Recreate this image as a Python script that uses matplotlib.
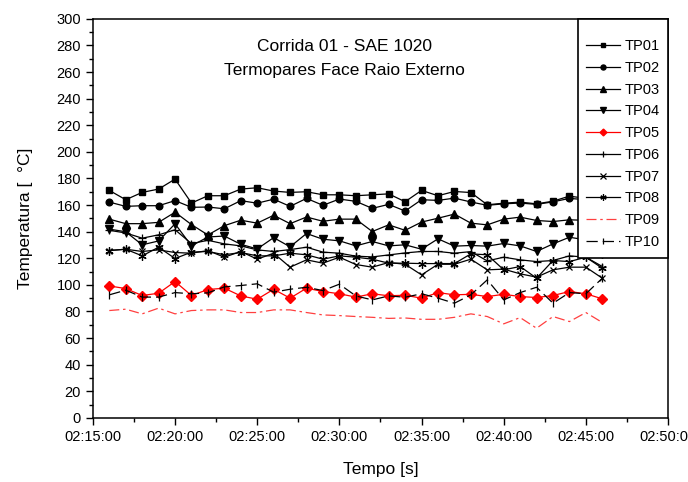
import datetime as dt
import matplotlib
matplotlib.use('Agg')
import matplotlib.pyplot as plt
import matplotlib.dates as mdates
from matplotlib.ticker import MultipleLocator

plt.rcParams['font.family'] = ['Liberation Sans', 'DejaVu Sans']

# one reading per minute, 02:16:00 .. 02:46:00
minutes = [16, 17, 18, 19, 20, 21, 22, 23, 24, 25, 26, 27, 28, 29, 30, 31,
           32, 33, 34, 35, 36, 37, 38, 39, 40, 41, 42, 43, 44, 45, 46]

tp01 = [171, 164, 169.5, 172, 179.5, 161.5, 167, 167, 172, 173, 170.5, 169.5, 170, 167.7, 167.7, 167,
        167.7, 168.4, 162.5, 171, 167, 170.2, 169.4, 160.2, 161.4, 162.2, 160.9, 162.9, 166.7, 165, 164]
tp02 = [162.2, 159, 159.5, 159.5, 163.3, 158.3, 158.5, 157.2, 163.3, 161.4, 164.4, 159, 165, 159.8, 164.5, 162.8,
        157.5, 160.5, 155.5, 164, 163.5, 165.2, 162.3, 159.8, 160.9, 161.5, 160.5, 162.4, 165, 164, 163]
tp03 = [149.4, 146, 146, 147, 154.6, 145.3, 137.5, 144.5, 148.6, 146.4, 152.3, 146, 151, 147.8, 149.4, 149.4,
        140.1, 145.1, 141, 147.2, 150.1, 153.2, 146.4, 145.1, 149.4, 150.9, 148.4, 147.6, 148.9, 148.5, 149]
tp04 = [141.9, 139.9, 130.1, 133, 145.9, 129.3, 136, 136.7, 130.5, 127, 135.5, 128.6, 138.6, 134.3, 133.1, 129.3,
        132.6, 129.3, 130.1, 126.8, 134.6, 129.1, 129.6, 129.1, 131.1, 129.3, 125.1, 130.8, 135.8, 133.8, 123]
tp05 = [99.2, 97.2, 92.0, 93.7, 102.5, 92.0, 96.5, 97.5, 91.7, 89.2, 96.7, 90.0, 97.5, 95.0, 93.3, 90.8,
        93.3, 91.8, 92.2, 90.0, 94.2, 92.5, 92.9, 91.2, 92.9, 91.2, 90.5, 92.0, 95.0, 93.3, 89.5]
tp06 = [141, 139, 135.1, 137.6, 141.4, 131, 133.5, 130.8, 129.3, 126.3, 125.1, 126.5, 128.3, 124.6, 123.8, 121.6,
        121.0, 122.5, 124, 125.1, 125.1, 123.8, 125, 118, 120.8, 118.8, 117.5, 118.3, 121.8, 120.8, 113.8]
tp07 = [125.8, 126.8, 125.1, 126.3, 124.3, 123.8, 125.8, 120.8, 125.1, 119.3, 123.8, 113.3, 118.8, 116.3, 120.8, 115.3,
        113.3, 116.8, 115.5, 107.5, 115.5, 115.5, 119.3, 111.3, 111.8, 108.3, 105.8, 111.3, 113.3, 113.3, 105.0]
tp08 = [125.8, 126.8, 121.8, 128.3, 119.8, 124.6, 125.1, 122.6, 124.3, 121.8, 121.8, 123.8, 122.6, 119.3, 121.8, 120.8,
        119.3, 116.3, 116.3, 116.0, 116.0, 116.0, 123.3, 122.6, 111.3, 113.8, 105.0, 118.3, 117.5, 120.8, 112.5]
tp09 = [80.7, 81.7, 78.2, 82.5, 78.2, 80.7, 81.2, 81.2, 79.2, 79.2, 81.2, 81.2, 79.2, 77.4, 76.9, 76.2,
        75.6, 74.8, 75.1, 74.1, 74.1, 75.6, 78.2, 76.2, 70.7, 75.4, 67.4, 76.2, 72.4, 79.2, 71.7]
tp10 = [92.5, 96, 90.8, 90.8, 94.2, 93.3, 94, 98.5, 99.5, 100.8, 94.5, 96.7, 98.2, 95.7, 100.5, 91.7,
        88.7, 91.7, 90.7, 93.3, 90.0, 86.2, 92.5, 103.8, 88.7, 94.2, 98.2, 86.2, 94.2, 93.3, 105]

t = [dt.datetime(2000, 1, 1, 2, m) for m in minutes]

fig = plt.figure(figsize=(6.88, 4.82), dpi=100)
ax = fig.add_axes([0.135, 0.133, 0.836, 0.828])

lw = 0.9
ax.plot(t, tp01, color='black', lw=lw, marker='s', ms=4.6, label='TP01')
ax.plot(t, tp02, color='black', lw=lw, marker='o', ms=4.8, label='TP02')
ax.plot(t, tp03, color='black', lw=lw, marker='^', ms=5.2, label='TP03')
ax.plot(t, tp04, color='black', lw=lw, marker='v', ms=5.2, label='TP04')
ax.plot(t, tp05, color='red', lw=lw, marker='D', ms=4.6, label='TP05')
ax.plot(t, tp06, color='black', lw=lw, marker='+', ms=6, mew=0.9, label='TP06')
ax.plot(t, tp07, color='black', lw=lw, marker='x', ms=5, mew=0.9, label='TP07')
ax.plot(t, tp08, color='black', lw=lw, marker=(6, 2, 0), ms=6, mew=0.9, label='TP08')
ax.plot(t, tp09, color='#ff4040', lw=lw, ls=(0, (8, 3, 2, 3)), label='TP09')
ax.plot(t, tp10, color='black', lw=lw, ls=(0, (9, 4)), marker='|', ms=6, mew=0.9, label='TP10')

ax.set_xlim(dt.datetime(2000, 1, 1, 2, 15), dt.datetime(2000, 1, 1, 2, 50))
ax.set_ylim(0, 300)
ax.xaxis.set_major_locator(mdates.MinuteLocator(byminute=range(0, 60, 5)))
ax.xaxis.set_major_formatter(mdates.DateFormatter('%H:%M:%S'))
ax.yaxis.set_major_locator(MultipleLocator(20))
ax.yaxis.set_minor_locator(MultipleLocator(10))

# minor x ticks only half way between the labelled ones
ax.set_xticks([dt.datetime(2000, 1, 1, 2, 17, 30) + dt.timedelta(minutes=5 * i) for i in range(7)], minor=True)

ax.tick_params(which='major', direction='out', length=5, width=1, labelsize=10.5, top=False, right=False)
ax.tick_params(which='minor', direction='out', length=3, width=1, top=False, right=False)
for s in ax.spines.values():
    s.set_linewidth(1.1)

ax.set_xlabel('Tempo [s]', fontsize=12.5, labelpad=13)
ax.set_ylabel('Temperatura [  °C]', fontsize=12.5, labelpad=17)

ax.text(0.438, 0.90, 'Corrida 01 - SAE 1020\nTermopares Face Raio Externo',
        transform=ax.transAxes, ha='center', va='center', fontsize=12.5, linespacing=1.75)

# empty tiny title just to push the entries down a bit, like the original
leg = ax.legend(loc='upper right', fontsize=10.5, frameon=True, fancybox=False,
                edgecolor='black', framealpha=1, borderaxespad=0, handlelength=2.3,
                labelspacing=0.53, borderpad=0.6, handletextpad=0.3, markerscale=0.75,
                title=' ', title_fontsize=2)
leg.get_frame().set_linewidth(1.2)

fig.savefig('out.png', dpi=100)
